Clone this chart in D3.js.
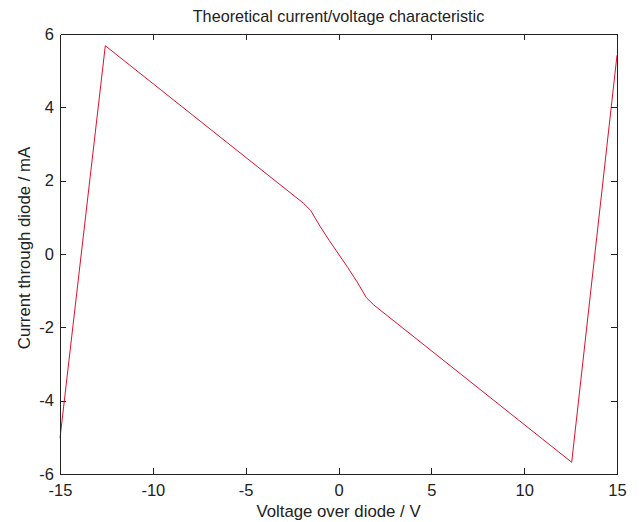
<!DOCTYPE html>
<html lang="en">
<head>
    <meta charset="utf-8">
    <script src="https://cdn.jsdelivr.net/npm/d3@7"></script>
    <style type="text/css">
        body { margin: 0; background: #fff; }
        text { font-family: "Liberation Sans", Arial, sans-serif; fill: #222; }
    </style>
</head>
<body>
    <script>
        // values
        let voltage = [-15, -12.56, -1.9, -1.5, -1, -0.5, 0, 0.5, 1, 1.5, 1.9, 12.56, 15];
        let current = [-5.02, 5.68, 1.39, 1.19, 0.76, 0.37, 0, -0.37, -0.76, -1.19, -1.39, -5.68, 5.42];
        let xTicks = [-15, -10, -5, 0, 5, 10, 15];
        let yTicks = [-6, -4, -2, 0, 2, 4, 6];

        let w = 642;
        let h = 522;
        let padL = 60, padR = 617, padT = 34, padB = 474;
        let tickLen = 6;

        let svg = d3.select("body")
                    .append("svg")
                    .attr("width", w)
                    .attr("height", h);

        let xScale = d3.scaleLinear().domain([-15, 15]).range([padL, padR]);
        let yScale = d3.scaleLinear().domain([-6, 6]).range([padB, padT]);

        let points = voltage.map((v, i) => [v, current[i]]);

        // the curve
        let line = d3.line()
                     .x((d) => xScale(d[0]))
                     .y((d) => yScale(d[1]));

        svg.append("path")
            .datum(points)
            .attr("d", line)
            .attr("fill", "none")
            .attr("stroke", "#e0102a")
            .attr("stroke-width", 1);

        // box and inward ticks, MATLAB style (plain hyphen for minus)
        let fmt = (d) => String(d);
        let xAxisB = d3.axisBottom(xScale).tickValues(xTicks).tickFormat(fmt).tickSizeInner(-tickLen).tickSizeOuter(0).tickPadding(10);
        let xAxisT = d3.axisTop(xScale).tickValues(xTicks).tickSizeInner(-tickLen).tickSizeOuter(0).tickFormat("");
        let yAxisL = d3.axisLeft(yScale).tickValues(yTicks).tickFormat(fmt).tickSizeInner(-tickLen).tickSizeOuter(0).tickPadding(6);
        let yAxisR = d3.axisRight(yScale).tickValues(yTicks).tickSizeInner(-tickLen).tickSizeOuter(0).tickFormat("");

        let gB = svg.append("g").attr("transform", "translate(0," + padB + ")").call(xAxisB);
        let gT = svg.append("g").attr("transform", "translate(0," + padT + ")").call(xAxisT);
        let gL = svg.append("g").attr("transform", "translate(" + padL + ",0)").call(yAxisL);
        let gR = svg.append("g").attr("transform", "translate(" + padR + ",0)").call(yAxisR);

        [gB, gT, gL, gR].forEach((g) => {
            g.selectAll("path, line").attr("stroke", "#222").attr("shape-rendering", "crispEdges");
            g.selectAll("text")
                .attr("font-family", "Liberation Sans, Arial, sans-serif")
                .attr("font-size", "16.5px")
                .attr("fill", "#222");
        });
        gB.selectAll(".tick line").filter((d) => d === -15 || d === 15).remove();
        gT.selectAll(".tick line").filter((d) => d === -15 || d === 15).remove();
        gL.selectAll(".tick line").filter((d) => d === -6 || d === 6).remove();
        gR.selectAll(".tick line").filter((d) => d === -6 || d === 6).remove();

        // title and axis labels
        svg.append("text")
            .attr("x", (padL + padR) / 2)
            .attr("y", 22)
            .attr("text-anchor", "middle")
            .attr("font-size", "16.2px")
            .text("Theoretical current/voltage characteristic");

        svg.append("text")
            .attr("x", (padL + padR) / 2)
            .attr("y", 517)
            .attr("text-anchor", "middle")
            .attr("font-size", "16.8px")
            .text("Voltage over diode / V");

        svg.append("text")
            .attr("x", 30)
            .attr("y", 248)
            .attr("text-anchor", "middle")
            .attr("font-size", "16.8px")
            .attr("transform", "rotate(-90, 30, 248)")
            .text("Current through diode / mA");
    </script>
</body>
</html>
